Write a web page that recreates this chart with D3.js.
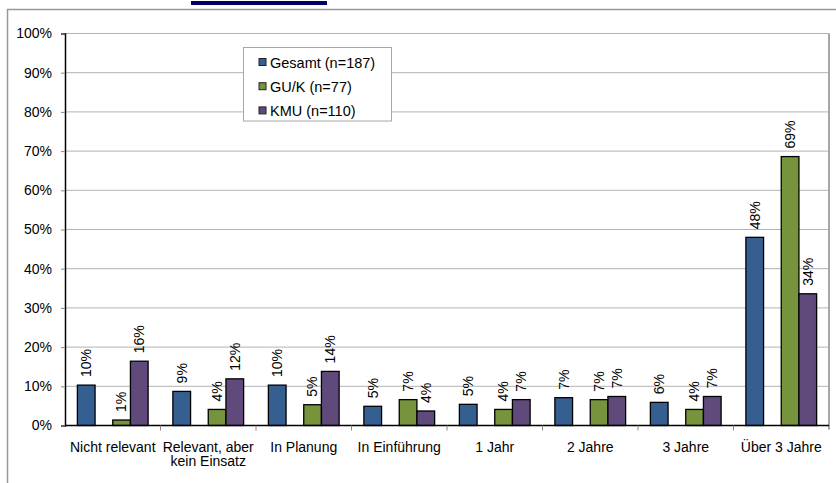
<!DOCTYPE html>
<html>
<head>
<meta charset="utf-8">
<script src="https://cdn.jsdelivr.net/npm/d3@7"></script>
<style>
  body { margin: 0; background: #fff; }
  svg text { font-family: "Liberation Sans", Arial, sans-serif; fill: #000; }
</style>
</head>
<body>
<div id="chart"></div>
<script>
// data
const categories = ["Nicht relevant", "Relevant, aber kein Einsatz", "In Planung", "In Einführung", "1 Jahr", "2 Jahre", "3 Jahre", "Über 3 Jahre"];
const categoryLines = [["Nicht relevant"], ["Relevant, aber", "kein Einsatz"], ["In Planung"], ["In Einführung"], ["1 Jahr"], ["2 Jahre"], ["3 Jahre"], ["Über 3 Jahre"]];
const seriesNames = ["Gesamt (n=187)", "GU/K (n=77)", "KMU (n=110)"];
const gesamt = [10.3, 8.7, 10.3, 4.9, 5.4, 7.1, 5.9, 48.0];
const guk = [1.4, 4.1, 5.3, 6.6, 4.1, 6.6, 4.1, 68.6];
const kmu = [16.4, 11.9, 13.8, 3.7, 6.6, 7.4, 7.4, 33.6];
const yTicks = [0, 10, 20, 30, 40, 50, 60, 70, 80, 90, 100];

const colors = ["#355f91", "#77933c", "#604a7b"];
const slots = ["s0", "gap", "s1", "s2"];

const width = 836, height = 483;
const margin = {top: 33.5, right: 8, bottom: 57, left: 65};
const innerW = 829 - margin.left;
const innerH = 425.5 - margin.top;

const svg = d3.select("#chart").append("svg")
  .attr("width", width)
  .attr("height", height);

// outer frame
svg.append("rect")
  .attr("x", 7.5).attr("y", 9.5)
  .attr("width", 840).attr("height", 500)
  .attr("fill", "none").attr("stroke", "#999").attr("stroke-width", 1.5);

// dark strip cut off at the top
svg.append("rect")
  .attr("x", 191).attr("y", 1)
  .attr("width", 136).attr("height", 4)
  .attr("fill", "#000066");

const g = svg.append("g")
  .attr("transform", "translate(" + margin.left + "," + margin.top + ")");

const xScale = d3.scaleBand().domain(categories).range([0, innerW]).padding(0);
const inner = d3.scaleBand().domain(slots).range([0, xScale.bandwidth()]).paddingOuter(0.7).paddingInner(0);
const yScale = d3.scaleLinear().domain([0, 100]).range([innerH, 0]);

// gridlines
g.append("g").selectAll("line")
  .data(yTicks.filter(d => d > 0))
  .join("line")
  .attr("x1", 0).attr("x2", innerW)
  .attr("y1", d => yScale(d)).attr("y2", d => yScale(d))
  .attr("stroke", "#b3b3b3").attr("stroke-width", 1);

// right border of plot area
g.append("line")
  .attr("x1", innerW).attr("x2", innerW)
  .attr("y1", 0).attr("y2", innerH + 4)
  .attr("stroke", "#a6a6a6").attr("stroke-width", 2);

// y axis
const yAxis = g.append("g")
  .call(d3.axisLeft(yScale).tickValues(yTicks).tickFormat(d => d + "%").tickSize(4).tickPadding(9));
yAxis.select(".domain").attr("stroke", "#000").attr("stroke-width", 1.5);
yAxis.selectAll(".tick line").attr("stroke", "#888");
yAxis.selectAll("text").style("font-size", "14px").attr("font-family", null);

// bars
const seriesData = [gesamt, guk, kmu];
const barData = [];
seriesData.forEach((vals, si) => {
  vals.forEach((v, ci) => barData.push({cat: categories[ci], series: si, value: v}));
});
const slotOf = si => slots[si === 0 ? 0 : si + 1];

g.append("g").selectAll("rect")
  .data(barData)
  .join("rect")
  .attr("x", d => xScale(d.cat) + inner(slotOf(d.series)))
  .attr("y", d => yScale(d.value))
  .attr("width", inner.bandwidth())
  .attr("height", d => yScale(0) - yScale(d.value))
  .attr("fill", d => colors[d.series])
  .attr("stroke", "#000").attr("stroke-width", 1.3);

// value labels
g.append("g").selectAll("text")
  .data(barData)
  .join("text")
  .attr("transform", d => {
    const cx = xScale(d.cat) + inner(slotOf(d.series)) + inner.bandwidth() / 2;
    const cy = yScale(d.value) - 8;
    return "translate(" + cx + "," + cy + ") rotate(-90)";
  })
  .attr("dy", "0.35em")
  .style("font-size", "14px")
  .text(d => Math.round(d.value) + "%");

// x axis
g.append("line")
  .attr("x1", 0).attr("x2", innerW)
  .attr("y1", innerH).attr("y2", innerH)
  .attr("stroke", "#000").attr("stroke-width", 1.5);
g.append("g").selectAll("line")
  .data(categories.slice(1))
  .join("line")
  .attr("x1", d => xScale(d)).attr("x2", d => xScale(d))
  .attr("y1", innerH).attr("y2", innerH + 5)
  .attr("stroke", "#888");

const xLabels = g.append("g").selectAll("text")
  .data(categories)
  .join("text")
  .attr("x", d => xScale(d) + xScale.bandwidth() / 2)
  .attr("y", innerH + 26)
  .attr("text-anchor", "middle")
  .style("font-size", "14px");
xLabels.each(function(d, i) {
  d3.select(this).selectAll("tspan")
    .data(categoryLines[i])
    .join("tspan")
    .attr("x", xScale(d) + xScale.bandwidth() / 2)
    .attr("dy", (t, j) => j === 0 ? 0 : "1.05em")
    .text(t => t);
});

// legend
const legend = svg.append("g").attr("transform", "translate(243.5,47.5)");
legend.append("rect")
  .attr("width", 148).attr("height", 73.5)
  .attr("fill", "#fff").attr("stroke", "#a6a6a6");
const items = legend.selectAll(".legendItem")
  .data(seriesNames)
  .join("g")
  .attr("class", "legendItem")
  .attr("transform", (d, i) => "translate(15.5," + (15 + i * 24.2) + ")");
items.append("rect")
  .attr("x", 0).attr("y", -4)
  .attr("width", 7).attr("height", 7)
  .attr("fill", (d, i) => colors[i])
  .attr("stroke", "#222").attr("stroke-width", 1);
items.append("text")
  .attr("x", 11).attr("dy", "0.35em")
  .style("font-size", "14.5px")
  .text(d => d);
</script>
</body>
</html>
